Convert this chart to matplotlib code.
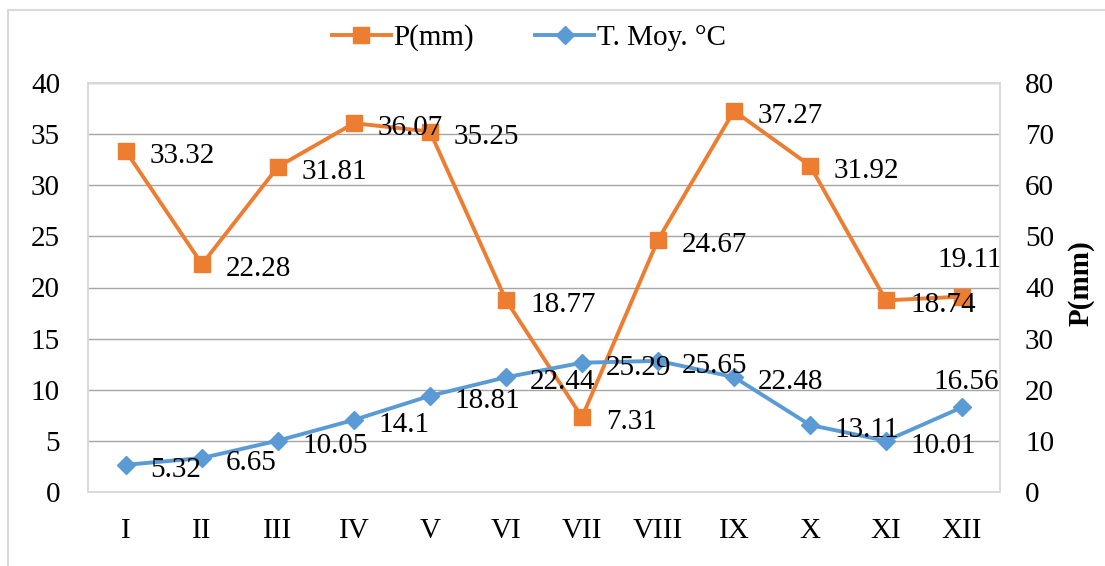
import matplotlib
matplotlib.use("Agg")
import matplotlib.pyplot as plt
from matplotlib.lines import Line2D

plt.rcParams['font.family'] = ['Liberation Serif', 'DejaVu Serif']

months = ["I", "II", "III", "IV", "V", "VI", "VII", "VIII", "IX", "X", "XI", "XII"]
precip = [33.32, 22.28, 31.81, 36.07, 35.25, 18.77, 7.31, 24.67, 37.27, 31.92, 18.74, 19.11]
temp = [5.32, 6.65, 10.05, 14.1, 18.81, 22.44, 25.29, 25.65, 22.48, 13.11, 10.01, 16.56]

ORANGE = "#ED7D31"
BLUE = "#5B9BD5"
GRID = "#a6a6a6"
FRAME = "#d9d9d9"
FS = 21
PX = 72 / 100  # points per pixel at 100 dpi

W, H = 1105, 566
fig = plt.figure(figsize=(W / 100, H / 100), dpi=100)
ax = fig.add_axes([88 / W, 1 - 492 / H, (1000 - 88) / W, (492 - 83) / H])
ax2 = ax.twinx()

x = list(range(len(months)))

l1, = ax.plot(x, precip, color=ORANGE, lw=2.8, marker='s', ms=11.5,
              label="P(mm)", zorder=3, clip_on=False)
l2, = ax2.plot(x, temp, color=BLUE, lw=2.8, marker='D', ms=9,
               label="T. Moy. °C", zorder=3, clip_on=False)

ax.set_xlim(-0.5, len(months) - 0.5)
ax.set_ylim(0, 40)
ax.set_yticks(range(0, 41, 5))
ax2.set_ylim(0, 80)
ax2.set_yticks(range(0, 81, 10))
ax.set_xticks(x)
ax.set_xticklabels(months)

ax.yaxis.grid(True, color=GRID, lw=1.0)
ax.set_axisbelow(True)
for a in (ax, ax2):
    for s in a.spines.values():
        s.set_color(FRAME)
        s.set_linewidth(1.2)
    a.tick_params(length=0, labelsize=FS, colors="black")
ax.tick_params(axis='y', pad=28 * PX)
ax.tick_params(axis='x', pad=26 * PX)
ax2.tick_params(axis='y', pad=25 * PX)

ax2.set_ylabel("P(mm)", fontsize=FS, fontweight='bold', labelpad=0)
ax2.yaxis.set_label_coords(1.074, 0.51)

# data labels: to the right of each point, the last ones placed above
p_offsets = {11: (8, 30, 'center')}
t_offsets = {11: (4, 18, 'center')}
for i, v in enumerate(precip):
    dx, dy, ha = p_offsets.get(i, (24, -12, 'left'))
    ax.annotate(f"{v:g}", (i, v), xytext=(dx, dy), textcoords='offset pixels',
                ha=ha, va='baseline', fontsize=FS, zorder=5)
for i, v in enumerate(temp):
    dx, dy, ha = t_offsets.get(i, (24, -12, 'left'))
    ax2.annotate(f"{v:g}", (i, v), xytext=(dx, dy), textcoords='offset pixels',
                 ha=ha, va='baseline', fontsize=FS, zorder=5)

fig.legend(handles=[l1, l2], loc='center', bbox_to_anchor=(529 / W, 1 - 38 / H),
           ncol=2, frameon=False, fontsize=FS, handlelength=2.0,
           handletextpad=0.1, columnspacing=2.1)

# chart frame
fig.add_artist(Line2D([8 / W, 8 / W], [0, 1 - 10 / H], color=FRAME, lw=1.5,
                      transform=fig.transFigure))
fig.add_artist(Line2D([8 / W, 1], [1 - 10 / H, 1 - 10 / H], color=FRAME, lw=1.5,
                      transform=fig.transFigure))

fig.savefig("out.png", dpi=100)
